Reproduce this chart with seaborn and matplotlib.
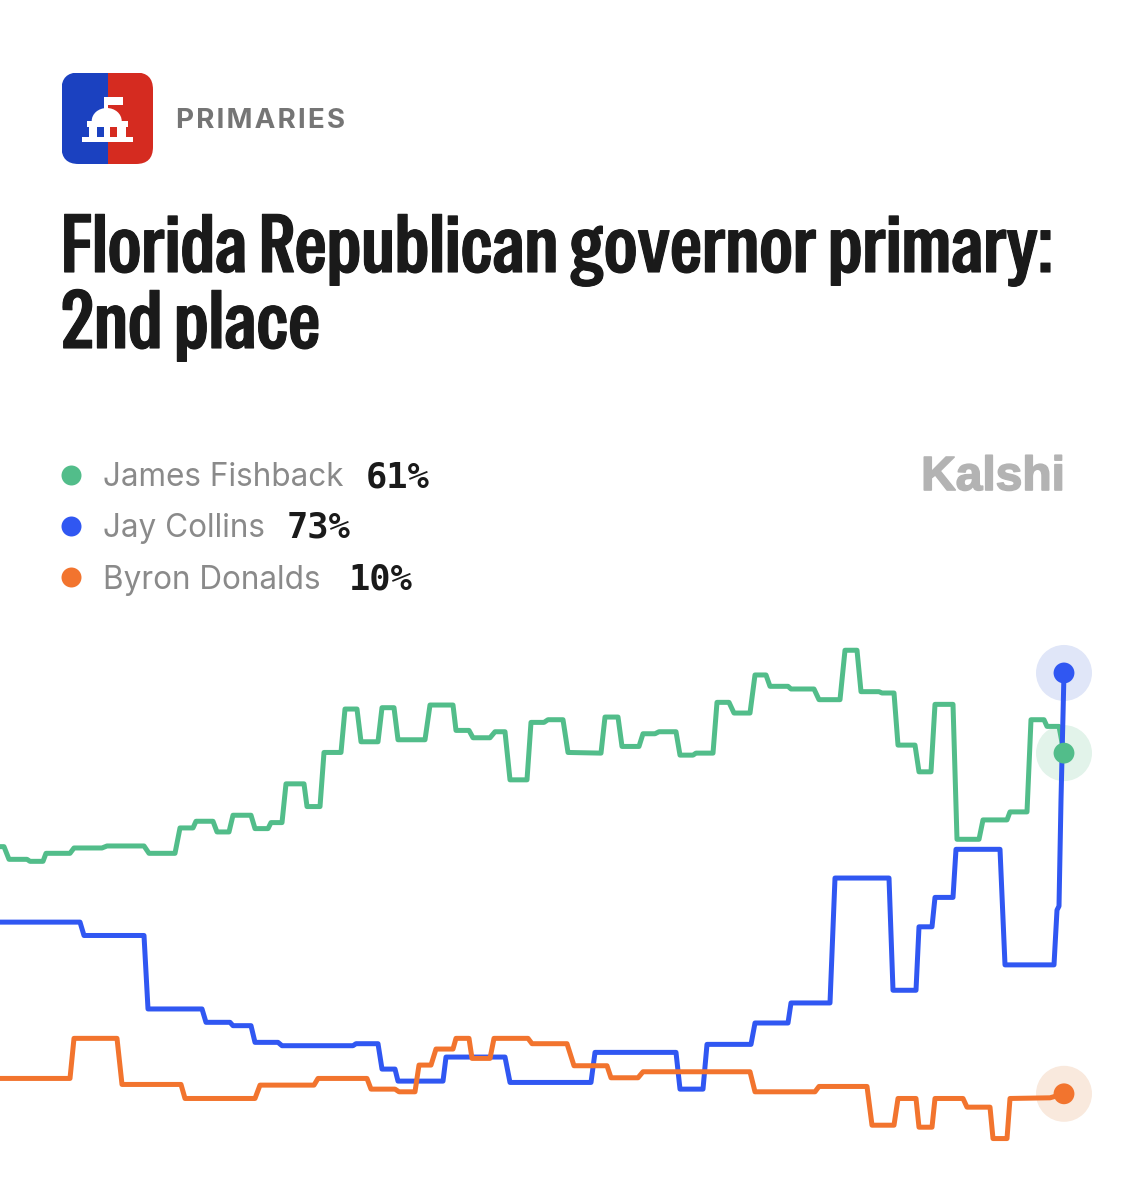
import matplotlib
matplotlib.use('Agg')
import matplotlib.pyplot as plt
import matplotlib.patheffects as pe
from matplotlib.patches import FancyBboxPatch, Rectangle, Ellipse
import pandas as pd
import seaborn as sns

# ---------------------------------------------
# data: t is the position on the time axis, values are percent chance
names = ['James Fishback', 'Jay Collins', 'Byron Donalds']
last_pct = [61, 73, 10]
colors = ['#52bd8a', '#3057f2', '#f2742e']
halos = ['#e2f3ea', '#e0e6f8', '#f9e9dd']

green_t = [0, 4, 9, 27, 30, 43, 46, 70, 74, 102, 107, 144, 149, 175, 180, 193, 196, 213, 217, 229,
           233, 251, 255, 268, 271, 282, 286, 304, 307, 320, 324, 341, 345, 357, 361, 378, 382, 394,
           398, 425, 430, 453, 456, 469, 473, 490, 495, 505, 510, 527, 531, 544, 548, 563, 568, 601,
           605, 618, 622, 639, 643, 655, 659, 676, 680, 693, 696, 713, 717, 729, 734, 750, 755, 766,
           770, 788, 791, 814, 819, 840, 845, 857, 861, 879, 882, 894, 898, 915, 919, 931, 935, 953,
           957, 979, 983, 1007, 1010, 1027, 1031, 1044, 1047, 1059, 1064]
green_v = [47.0, 47.0, 45.1, 45.1, 44.8, 44.8, 46.0, 46.0, 46.8, 46.8, 47.1, 47.1, 46.0, 46.0, 49.8,
           49.8, 50.8, 50.8, 49.2, 49.2, 51.7, 51.7, 49.7, 49.7, 50.6, 50.6, 56.4, 56.4, 53.0, 53.0,
           61.1, 61.1, 67.6, 67.6, 62.7, 62.7, 67.8, 67.8, 63.0, 63.0, 68.2, 68.2, 64.4, 64.4, 63.3,
           63.3, 64.2, 64.2, 57.0, 57.0, 65.6, 65.6, 66.0, 66.0, 61.1, 61.0, 66.4, 66.4, 62.0, 62.0,
           63.9, 63.9, 64.2, 64.2, 60.7, 60.7, 61.0, 61.0, 68.6, 68.6, 67.0, 67.0, 72.7, 72.7, 71.0,
           71.0, 70.6, 70.6, 69.0, 69.0, 76.4, 76.4, 70.2, 70.2, 70.0, 70.0, 62.2, 62.2, 58.2, 58.2,
           68.3, 68.3, 48.1, 48.1, 51.0, 51.0, 52.2, 52.2, 66.0, 66.0, 65.0, 65.0, 61.0]

blue_t = [0, 80, 84, 144, 148, 202, 206, 230, 233, 251, 255, 278, 282, 353, 356, 378, 382, 395, 398,
          443, 446, 505, 510, 591, 595, 676, 680, 703, 707, 751, 755, 788, 791, 830, 835, 889, 893,
          916, 919, 932, 935, 953, 956, 1000, 1005, 1054, 1057, 1059, 1061, 1064]
blue_v = [35.7, 35.7, 33.7, 33.7, 22.7, 22.7, 20.7, 20.7, 20.2, 20.2, 17.7, 17.7, 17.2, 17.2, 17.5,
          17.5, 13.7, 13.7, 11.9, 11.9, 15.5, 15.5, 11.7, 11.7, 16.2, 16.2, 10.7, 10.7, 17.4, 17.4,
          20.6, 20.6, 23.6, 23.6, 42.3, 42.3, 25.5, 25.5, 35.0, 35.0, 39.4, 39.4, 46.6, 46.6, 29.3,
          29.3, 37.5, 38.1, 54.0, 73.0]

orange_t = [0, 70, 74, 117, 122, 181, 185, 255, 260, 314, 318, 367, 371, 395, 399, 415, 419, 431,
            436, 453, 456, 469, 472, 490, 494, 528, 532, 567, 574, 607, 611, 638, 643, 750, 755, 815,
            819, 867, 872, 894, 898, 916, 919, 932, 935, 963, 967, 990, 993, 1007, 1010, 1050, 1064]
orange_v = [12.3, 12.3, 18.3, 18.3, 11.4, 11.4, 9.3, 9.3, 11.3, 11.3, 12.3, 12.3, 10.7, 10.7, 10.3,
            10.3, 14.3, 14.3, 16.7, 16.7, 18.3, 18.3, 15.3, 15.3, 18.3, 18.3, 17.5, 17.5, 14.2, 14.2,
            12.4, 12.4, 13.3, 13.3, 10.3, 10.3, 11.1, 11.1, 5.3, 5.3, 9.3, 9.3, 5.0, 5.0, 9.3, 9.3,
            8.0, 8.0, 3.3, 3.3, 9.3, 9.4, 10.0]

# ---------------------------------------------
# long table for seaborn
df = pd.concat([
    pd.DataFrame({'t': green_t, 'pct': green_v, 'name': names[0]}),
    pd.DataFrame({'t': blue_t, 'pct': blue_v, 'name': names[1]}),
    pd.DataFrame({'t': orange_t, 'pct': orange_v, 'name': names[2]}),
])
ends = df.groupby('name', sort=False).tail(1)

sns.set_theme(style='white')
plt.rcParams['font.family'] = ['Inter', 'DejaVu Sans']

fig = plt.figure(figsize=(11.25, 12), dpi=100, facecolor='white')

# overlay in pixel coordinates for header, logo and legend
bg = fig.add_axes([0, 0, 1, 1])
bg.set_xlim(0, 1125)
bg.set_ylim(1200, 0)
bg.axis('off')

# logo
clip = FancyBboxPatch((61.5, 72.5), 91.5, 91.5, boxstyle='round,pad=0,rounding_size=17',
                      fc='none', ec='none', transform=bg.transData)
bg.add_patch(clip)
left = Rectangle((61.5, 72.5), 46, 91.5, fc='#1b41c0', ec='none')
right = Rectangle((107.5, 72.5), 45.5, 91.5, fc='#d52b20', ec='none')
for p in (left, right):
    bg.add_patch(p)
    p.set_clip_path(clip)
white = '#ffffff'
bg.add_patch(Rectangle((104.3, 96.7), 4, 14, fc=white, ec='none'))      # pole
bg.add_patch(Rectangle((104.3, 96.7), 19, 8.5, fc=white, ec='none'))    # flag
bg.add_patch(Ellipse((106.7, 121), 30, 26, fc=white, ec='none'))        # dome
bg.add_patch(Rectangle((86.7, 121), 41.6, 5.5, fc=white, ec='none'))
bg.add_patch(Rectangle((89, 126), 37, 11, fc=white, ec='none'))
bg.add_patch(Rectangle((97.3, 127), 7, 9.5, fc='#1b41c0', ec='none'))   # windows
bg.add_patch(Rectangle((110, 127), 7.3, 9.5, fc='#d52b20', ec='none'))
bg.add_patch(Rectangle((81.7, 136.7), 51, 5, fc=white, ec='none'))

# header text
bg.text(176, 121, '\u200a'.join('PRIMARIES'), fontsize=20, fontweight='bold', color='#757575',
        va='center', ha='left', family=['Inter', 'DejaVu Sans'])
title_font = ['Special Gothic Condensed One', 'Liberation Sans']
heavy = [pe.withStroke(linewidth=0.8, foreground='#1a1a1a')]
bg.text(61, 272, 'Florida Republican governor primary:', fontsize=58.5,
        color='#1a1a1a', va='baseline', ha='left', family=title_font, path_effects=heavy)
bg.text(61, 348, '2nd place', fontsize=58.5,
        color='#1a1a1a', va='baseline', ha='left', family=title_font, path_effects=heavy)
bg.text(1065, 490, 'Kalshi', fontsize=34.5, fontweight='bold', color='#b3b3b3',
        va='baseline', ha='right', family=['Liberation Sans'],
        path_effects=[pe.withStroke(linewidth=1.2, foreground='#b3b3b3')])

# legend rows
legend_y = [478, 529, 580]
pct_x = [366, 287, 349]
for name, pct, col, y, px in zip(names, last_pct, colors, legend_y, pct_x):
    bg.scatter([71], [y - 3], s=207, color=col, linewidth=0)
    bg.text(103, y, name, fontsize=22.7, color='#8a8a8a', va='center', ha='left')
    bg.text(px, y - 1, f'{pct}%', fontsize=25.5, fontweight='bold', color='#1a1a1a',
            va='center', ha='left', family=['DejaVu Sans Mono'])

# chart: y axis is percent, scaled 6.68 px per point
ax = fig.add_axes([0, 39.4 / 1200, 1, 534.4 / 1200])
ax.patch.set_alpha(0)
sns.scatterplot(data=ends, x='t', y='pct', hue='name', hue_order=names, palette=halos,
                s=1625, linewidth=0, legend=False, zorder=1, ax=ax)
sns.lineplot(data=df, x='t', y='pct', hue='name', hue_order=names, palette=colors,
             estimator=None, sort=False, linewidth=3.6, legend=False, zorder=2, ax=ax,
             solid_joinstyle='round', solid_capstyle='round')
sns.scatterplot(data=ends, x='t', y='pct', hue='name', hue_order=names, palette=colors,
                s=225, linewidth=0, legend=False, zorder=3, ax=ax)
ax.set_xlim(0, 1125)
ax.set_ylim(0, 80)
ax.axis('off')

fig.savefig('out.png', dpi=100, facecolor='white')
